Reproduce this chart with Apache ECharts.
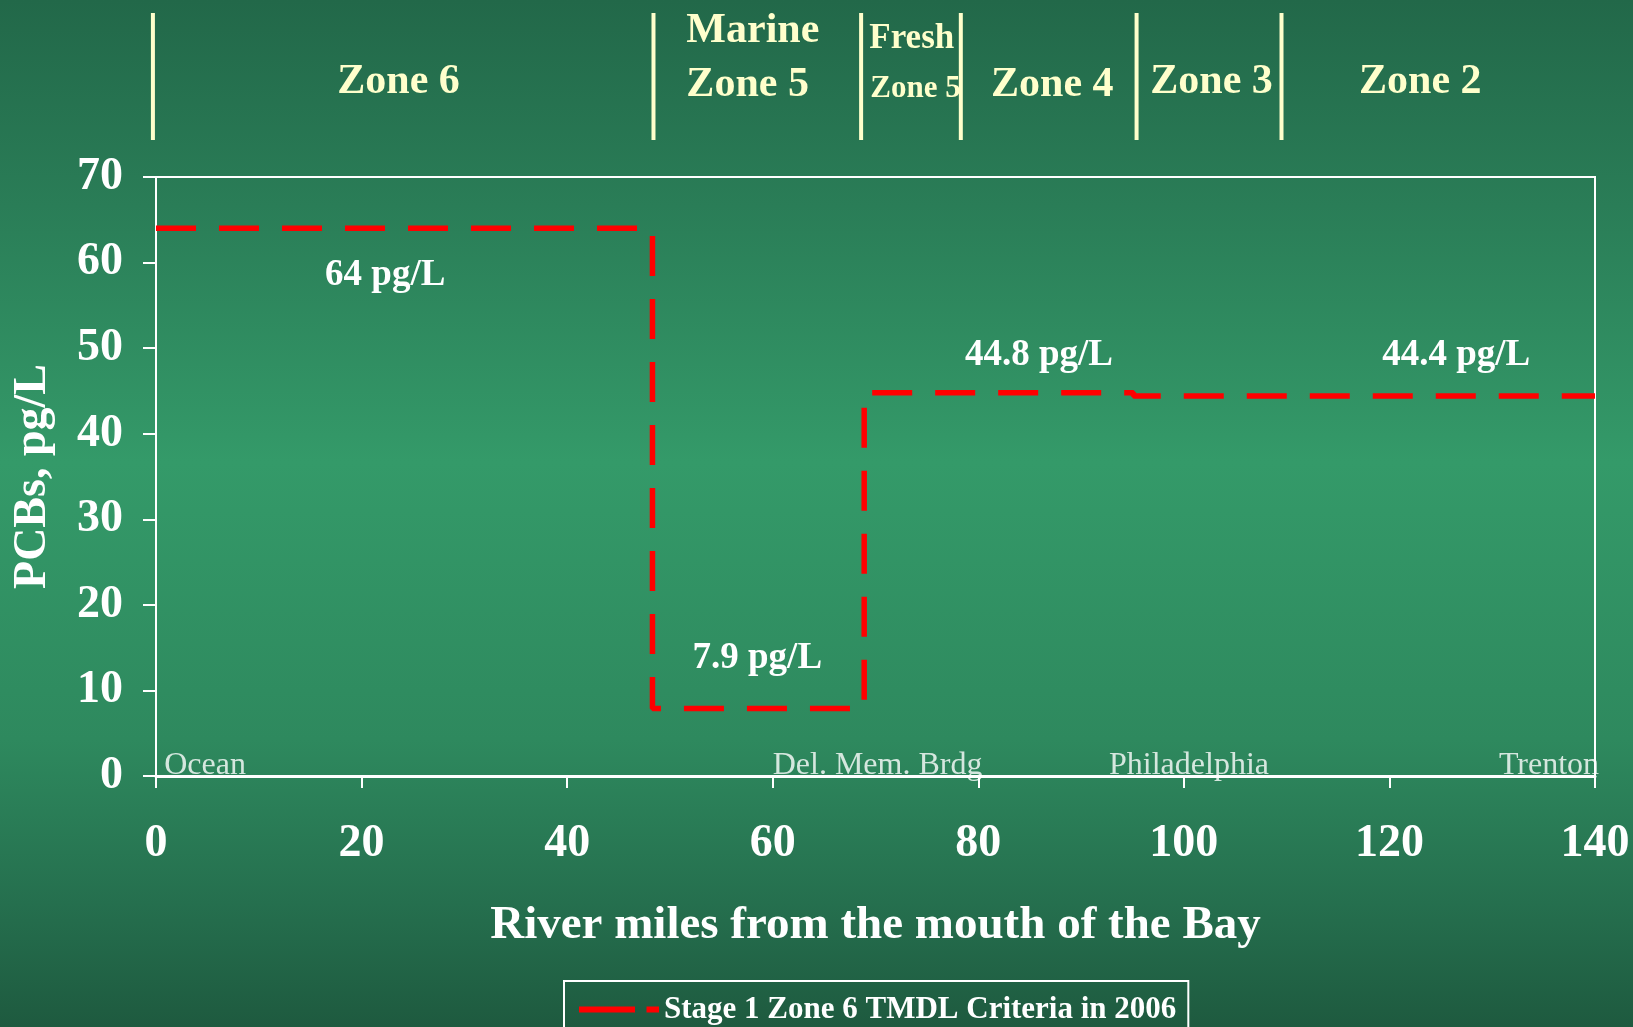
<!DOCTYPE html>
<html>
<head>
<meta charset="utf-8">
<script src="https://cdn.jsdelivr.net/npm/echarts@6/dist/echarts.min.js"></script>
<style>
  html, body { margin: 0; padding: 0; width: 1633px; height: 1027px; overflow: hidden; }
  #chart { width: 1633px; height: 1027px; }
</style>
</head>
<body>
<div id="chart"></div>
<script>
// Stage 1 PCB criteria along the Delaware estuary, by river mile
const seriesName = 'Stage 1 Zone 6 TMDL Criteria in 2006';
const segmentStarts = [0, 48.3, 68.9, 95.1];
const segmentEnds = [48.3, 68.9, 95.1, 140];
const criteriaValues = [64, 7.9, 44.8, 44.4];
const unit = 'pg/L';

// Axis ticks
const xTicks = [0, 20, 40, 60, 80, 100, 120, 140];
const yTicks = [0, 10, 20, 30, 40, 50, 60, 70];

// Zone boundaries (river miles) and zone header texts
const zoneEdges = [-0.3, 48.4, 68.6, 78.3, 95.4, 109.5];
const zoneNames = ['Zone 6', 'Marine', 'Zone 5', 'Fresh', 'Zone 5', 'Zone 4', 'Zone 3', 'Zone 2'];

// Landmarks along the river
const landmarkNames = ['Ocean', 'Del. Mem. Brdg', 'Philadelphia', 'Trenton'];

// ---- layout (placement of texts only) ----
const serif = '"Liberation Serif", "Times New Roman", serif';
const zoneTextLayout = [
  { mile: 23.6, y: 82, size: 42, align: 'center' },
  { mile: 51.6, y: 31, size: 42, align: 'left' },
  { mile: 51.6, y: 85, size: 42, align: 'left' },
  { mile: 69.4, y: 39, size: 35, align: 'left' },
  { mile: 69.5, y: 89, size: 31, align: 'left' },
  { mile: 87.2, y: 85, size: 42, align: 'center' },
  { mile: 102.7, y: 82, size: 42, align: 'center' },
  { mile: 123.0, y: 82, size: 42, align: 'center' }
];
const valueLabelMiles = [22.3, 58.5, 85.9, 126.5];
const valueLabelOffsets = [47, -50, -37, -41];
const landmarkLayout = [
  { mile: 0.8, align: 'left' },
  { mile: 60.0, align: 'left' },
  { mile: 100.5, align: 'center' },
  { mile: 140.4, align: 'right' }
];

// Step line: each criterion holds over its reach of river
const stepData = [];
segmentStarts.forEach((s, i) => {
  stepData.push([s, criteriaValues[i]]);
  stepData.push([segmentEnds[i], criteriaValues[i]]);
});

const chart = echarts.init(document.getElementById('chart'));

chart.setOption({
  backgroundColor: {
    type: 'linear', x: 0, y: 0, x2: 0, y2: 1,
    colorStops: [
      { offset: 0, color: '#226849' },
      { offset: 0.2, color: '#2a7d57' },
      { offset: 0.45, color: '#349a69' },
      { offset: 0.72, color: '#2e895e' },
      { offset: 0.88, color: '#256f4e' },
      { offset: 1, color: '#1e5a3f' }
    ]
  },
  animation: false,
  textStyle: { fontFamily: serif },
  legend: {
    data: [seriesName],
    left: 564,
    top: 981,
    padding: [13, 12, 30, 12],
    borderColor: '#ffffff',
    borderWidth: 2,
    itemWidth: 80,
    itemHeight: 24,
    lineStyle: { type: [56, 11.5], width: 6, color: '#ff0000' },
    itemStyle: { color: 'transparent', borderColor: 'transparent', borderWidth: 0, opacity: 0 },
    textStyle: { color: '#ffffff', fontFamily: serif, fontWeight: 'bold', fontSize: 31 }
  },
  grid: [
    {
      left: 156, right: 38, top: 177, bottom: 251,
      show: true, borderColor: '#ffffff', borderWidth: 2
    },
    { left: 156, right: 38, top: 13, height: 127 }
  ],
  xAxis: [
    {
      type: 'value', gridIndex: 0, min: xTicks[0], max: xTicks[xTicks.length - 1], interval: xTicks[1] - xTicks[0],
      name: 'River miles from the mouth of the Bay',
      nameLocation: 'middle', nameGap: 126,
      nameTextStyle: { color: '#ffffff', fontFamily: serif, fontWeight: 'bold', fontSize: 47 },
      axisLine: { show: true, lineStyle: { color: '#ffffff', width: 3 } },
      axisTick: { show: true, length: 12, lineStyle: { color: '#ffffff', width: 2 } },
      axisLabel: { color: '#ffffff', fontFamily: serif, fontWeight: 'bold', fontSize: 46, margin: 45 },
      splitLine: { show: false }
    },
    { type: 'value', gridIndex: 1, min: xTicks[0], max: xTicks[xTicks.length - 1], show: false }
  ],
  yAxis: [
    {
      type: 'value', gridIndex: 0, min: yTicks[0], max: yTicks[yTicks.length - 1], interval: yTicks[1] - yTicks[0],
      name: 'PCBs, pg/L',
      nameLocation: 'middle', nameGap: 100,
      nameTextStyle: { color: '#ffffff', fontFamily: serif, fontWeight: 'bold', fontSize: 46 },
      axisLine: { show: true, lineStyle: { color: '#ffffff', width: 2 } },
      axisTick: { show: true, length: 13, lineStyle: { color: '#ffffff', width: 2 } },
      axisLabel: { color: '#ffffff', fontFamily: serif, fontWeight: 'bold', fontSize: 46, margin: 33 },
      splitLine: { show: false }
    },
    { type: 'value', gridIndex: 1, min: 0, max: 1, show: false }
  ],
  series: [
    {
      name: seriesName,
      type: 'line',
      xAxisIndex: 0, yAxisIndex: 0,
      data: stepData,
      symbol: 'none',
      lineStyle: { color: '#ff0000', width: 5.5, type: [40, 23] },
      itemStyle: { color: '#ff0000' },
      z: 3,
      markPoint: {
        symbol: 'circle', symbolSize: 0,
        itemStyle: { color: 'transparent' },
        label: {
          show: true, position: 'inside',
          color: '#ffffff', fontFamily: serif, fontWeight: 'bold', fontSize: 37,
          formatter: p => p.value + ' ' + unit
        },
        data: criteriaValues.map((v, i) => ({
          coord: [valueLabelMiles[i], v],
          value: v,
          label: { offset: [0, valueLabelOffsets[i]] }
        }))
      }
    },
    {
      name: 'landmarks',
      type: 'scatter',
      xAxisIndex: 0, yAxisIndex: 0,
      clip: false,
      symbolSize: 0,
      silent: true,
      data: landmarkNames.map((n, i) => ({
        value: [landmarkLayout[i].mile, 0],
        name: n,
        label: { align: landmarkLayout[i].align }
      })),
      label: {
        show: true, position: 'inside',
        verticalAlign: 'bottom', offset: [0, 6],
        color: '#ffffff', fontFamily: serif, fontSize: 32,
        formatter: p => p.name
      }
    },
    {
      name: 'zone names',
      type: 'custom',
      xAxisIndex: 1, yAxisIndex: 1,
      clip: false, silent: true, z: 4,
      data: zoneNames.map((n, i) => [zoneTextLayout[i].mile]),
      encode: { x: 0 },
      renderItem: (params, api) => {
        const L = zoneTextLayout[params.dataIndex];
        const x = api.coord([api.value(0), 0])[0];
        return {
          type: 'text',
          x: x, y: L.y,
          style: {
            text: zoneNames[params.dataIndex],
            fill: '#ffffcc',
            font: 'bold ' + L.size + 'px ' + serif,
            align: L.align, verticalAlign: 'middle'
          }
        };
      }
    },
    {
      name: 'zone edges',
      type: 'custom',
      xAxisIndex: 1, yAxisIndex: 1,
      clip: false, silent: true, z: 5,
      data: zoneEdges.map(v => [v]),
      encode: { x: 0 },
      renderItem: (params, api) => {
        const x = api.coord([api.value(0), 0])[0];
        const top = api.coord([0, 1])[1];
        const bottom = api.coord([0, 0])[1];
        return {
          type: 'line',
          shape: { x1: x, y1: top, x2: x, y2: bottom },
          style: { stroke: '#ffffcc', lineWidth: 4 }
        };
      }
    }
  ]
});
</script>
</body>
</html>
